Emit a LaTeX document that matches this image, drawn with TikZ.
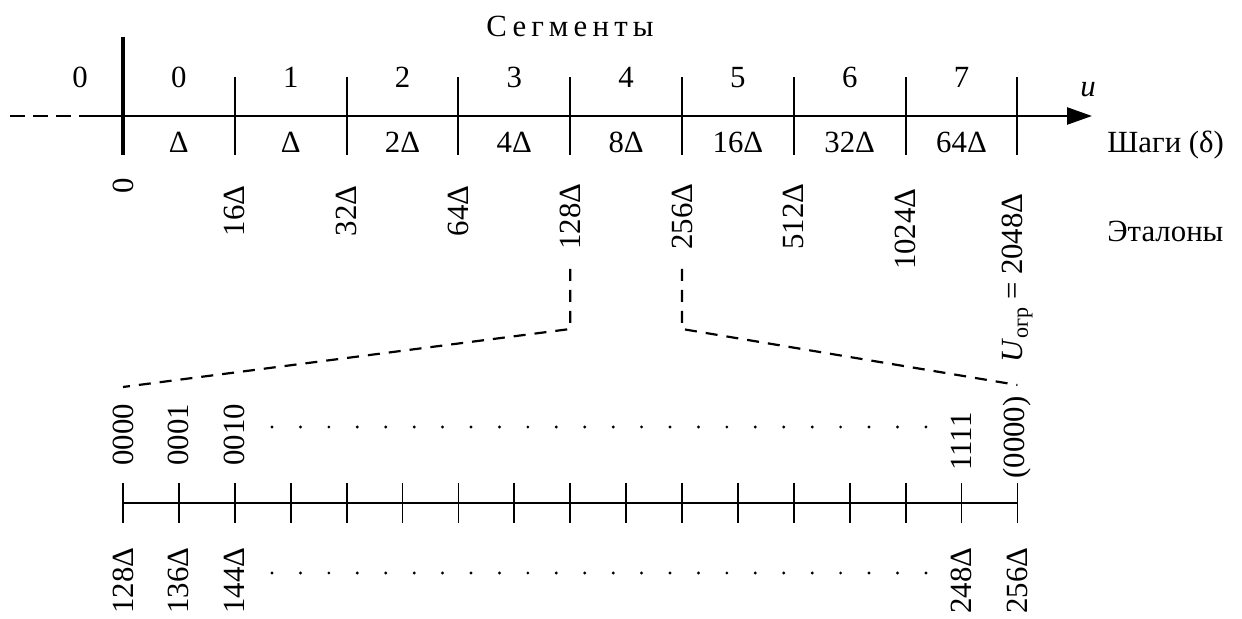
\documentclass[tikz,border=0pt]{standalone}
\usepackage{fontspec}
\setmainfont{Liberation Serif}
\usetikzlibrary{arrows.meta}
\begin{document}
\begin{tikzpicture}[x=0.5pt,y=-0.5pt,
  lbl/.style={inner sep=0pt, font=\fontsize{15.4}{18}\selectfont},
  rlbl/.style={lbl, rotate=90},
  axisline/.style={line width=1.25pt},
  tickline/.style={line width=1pt},
  thicktick/.style={line width=1.6pt},
  lowaxis/.style={line width=0.8pt},
  lowtick/.style={line width=0.9pt},
  dashline/.style={line width=1.1pt, dash pattern=on 6pt off 4.5pt},
  leftdash/.style={line width=1.25pt, dash pattern=on 7.5pt off 4pt},
  dotmark/.style={fill=black}]
\useasboundingbox (0,0) rectangle (1242,619);

% ---- upper axis ----
\coordinate (ax0) at (10,116);
\coordinate (ax1) at (85,116);
\coordinate (ax2) at (1092,116);
\draw[leftdash] (ax0) -- (ax1);
\draw[axisline, -{Triangle[length=12.5pt,width=8.5pt]}] (ax1) -- (ax2);
\node[lbl, anchor=base] (uu) at (1088,97) {\textit{u}};

% ticks
\coordinate (t0a) at (123,37);
\coordinate (t0b) at (123,155);
\draw[thicktick] (t0a) -- (t0b);
\foreach \k in {1,...,8}{
  \coordinate (ta\k) at (123+111.8*\k,77);
  \coordinate (tb\k) at (123+111.8*\k,155);
  \draw[tickline] (ta\k) -- (tb\k);
}

% title
\node[lbl, anchor=base] (title) at (570,37) {\addfontfeature{LetterSpace=17}Сегменты};

% segment numbers
\node[lbl, anchor=base] (segL) at (80,88) {0};
\foreach \k/\t in {0/0,1/1,2/2,3/3,4/4,5/5,6/6,7/7}{
  \node[lbl, anchor=base] (seg\k) at (178.9+111.8*\k,88) {\t};
}
% steps
\foreach \k/\t in {0/Δ,1/Δ,2/2Δ,3/4Δ,4/8Δ,5/16Δ,6/32Δ,7/64Δ}{
  \node[lbl, anchor=base] (st\k) at (178.9+111.8*\k,153) {\t};
}
\node[lbl, anchor=base west] (steps) at (1107,153) {Шаги (δ)};
\node[lbl, anchor=base west] (etal) at (1107,242) {Эталоны};

% reference values (rotated)
\node[rlbl, anchor=east] (et0) at (123,178) {0};
\node[rlbl, anchor=east] (et1) at (234.8,185) {16Δ};
\node[rlbl, anchor=east] (et2) at (346.6,185) {32Δ};
\node[rlbl, anchor=east] (et3) at (458.4,185) {64Δ};
\node[rlbl, anchor=east] (et4) at (570.2,183) {128Δ};
\node[rlbl, anchor=east] (et5) at (682,183) {256Δ};
\node[rlbl, anchor=east] (et6) at (793.8,183) {512Δ};
\node[rlbl, anchor=east] (et7) at (905.6,188) {1024Δ};
\node[rlbl, anchor=east] (et8) at (1017.4,193) {\textit{U}\raisebox{-0.35ex}{\fontsize{11}{11}\selectfont огр}\ =\ 2048Δ};

% dashed zoom connectors
\coordinate (a1) at (570.2,269);
\coordinate (a2) at (570.2,329);
\coordinate (a3) at (123,387);
\coordinate (b1) at (682,269);
\coordinate (b2) at (682,329);
\coordinate (b3) at (1017.4,385);
\draw[dashline] (a1) -- (a2) -- (a3);
\draw[dashline] (b1) -- (b2) -- (b3);

% ---- lower axis ----
\coordinate (l0) at (123,503);
\coordinate (l16) at (1017.4,503);
\draw[lowaxis] (l0) -- (l16);
\foreach \k in {0,...,16}{
  \coordinate (la\k) at (123+55.9*\k,483);
  \coordinate (lb\k) at (123+55.9*\k,523);
  \draw[lowtick] (la\k) -- (lb\k);
}

% binary codes
\node[rlbl, anchor=west] (c0) at (123,466) {0000};
\node[rlbl, anchor=west] (c1) at (178.9,466) {0001};
\node[rlbl, anchor=west] (c2) at (234.8,466) {0010};
\node[rlbl, anchor=west] (c15) at (961.5,471) {1111};
\node[rlbl, anchor=west] (c16) at (1017.4,479) {(0000)};

% lower values
\node[rlbl, anchor=east] (v0) at (123,547) {128Δ};
\node[rlbl, anchor=east] (v1) at (178.9,547) {136Δ};
\node[rlbl, anchor=east] (v2) at (234.8,547) {144Δ};
\node[rlbl, anchor=east] (v15) at (961.5,547) {248Δ};
\node[rlbl, anchor=east] (v16) at (1017.4,547) {256Δ};

% dotted rows
\foreach \i in {0,...,23}{
  \fill[dotmark] (272+28.43*\i,427) circle[radius=0.8pt];
  \fill[dotmark] (272+28.43*\i,573) circle[radius=0.8pt];
}
\end{tikzpicture}
\end{document}
